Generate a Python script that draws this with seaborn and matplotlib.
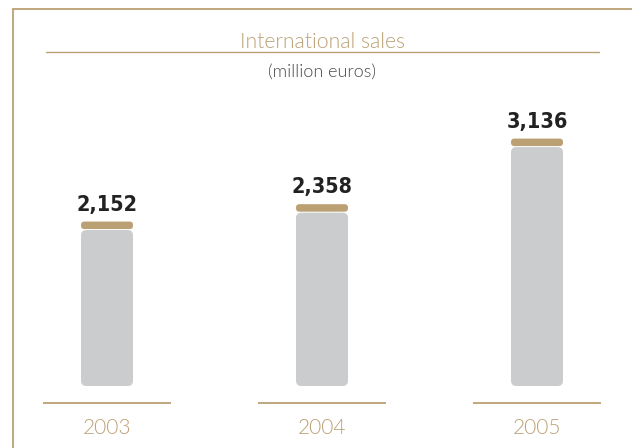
import matplotlib
matplotlib.use("Agg")
import matplotlib.pyplot as plt
from matplotlib.patches import FancyBboxPatch
from matplotlib.lines import Line2D
import seaborn as sns
import pandas as pd

# Data
years = ["2003", "2004", "2005"]
sales = [2152, 2358, 3136]
value_labels = ["2,152", "2,358", "3,136"]

TAN = "#BBA074"
GREY = "#CBCCCE"
DARK = "#222222"

sns.set_theme(style="white")
plt.rcParams["font.family"] = ["Lato", "DejaVu Sans"]

W, H = 632, 448
fig = plt.figure(figsize=(W / 100, H / 100), dpi=100)
ax = fig.add_axes([0, 0, 1, 1])

df = pd.DataFrame({"year": years, "sales": sales})
sns.barplot(data=df, x="year", y="sales", color=GREY, width=52 / 215, ax=ax)

# scale: 215 px between categories, zero line at y=403 px
px_per_x = 215.0
val_per_px = 11.86
ax.set_xlim(-107 / px_per_x, (W - 107) / px_per_x)
ax.set_ylim(-(H - 403) * val_per_px, 403 * val_per_px)
ax.axis("off")

gap_bottom = 17 * val_per_px   # grey column starts above the baseline
cap_h = 7.5 * val_per_px
cap_gap = 1.0 * val_per_px

for patch, lab in zip(list(ax.patches), value_labels):
    x0 = patch.get_x()
    w = patch.get_width()
    top = patch.get_height()
    patch.set_visible(False)
    # grey rounded column
    body = FancyBboxPatch(
        (x0, gap_bottom), w, top - cap_h - cap_gap - gap_bottom,
        boxstyle="round,pad=0,rounding_size=0.025",
        mutation_aspect=val_per_px * px_per_x,
        facecolor=GREY, edgecolor="none", zorder=2)
    ax.add_patch(body)
    # tan cap
    cap = FancyBboxPatch(
        (x0, top - cap_h), w, cap_h,
        boxstyle="round,pad=0,rounding_size=0.016",
        mutation_aspect=val_per_px * px_per_x,
        facecolor=TAN, edgecolor="none", zorder=3)
    ax.add_patch(cap)
    ax.text(x0 + w / 2, top + 11 * val_per_px, lab, ha="center", va="baseline",
            fontsize=15.5, color=DARK, fontweight="semibold", fontstretch="condensed",
            family=["DejaVu Sans"], zorder=4)

# baseline segments and year labels
for i, yr in enumerate(years):
    ax.hlines(0, i - 64 / px_per_x, i + 64 / px_per_x, color=TAN, lw=1.3)
    ax.text(i, -25 * val_per_px, yr, ha="center", va="center",
            fontsize=15, color=TAN, fontweight=300)

# frame lines and title
fig.add_artist(Line2D([13 / W, 13 / W], [0, 1 - 9 / H], color=TAN, lw=1.3))
fig.add_artist(Line2D([13 / W, 1], [1 - 9 / H, 1 - 9 / H], color=TAN, lw=1.3))
fig.add_artist(Line2D([46 / W, 599 / W], [1 - 52 / H, 1 - 52 / H], color=TAN, lw=1.0))
fig.text(322 / W, 1 - 42 / H, "International sales", ha="center", va="center",
         fontsize=15.2, color=TAN, fontweight=300)
fig.text(322 / W, 1 - 72 / H, "(million euros)", ha="center", va="center",
         fontsize=13, color="#4a4a4a", fontweight=300)

fig.savefig("out.png", dpi=100, facecolor="white")
